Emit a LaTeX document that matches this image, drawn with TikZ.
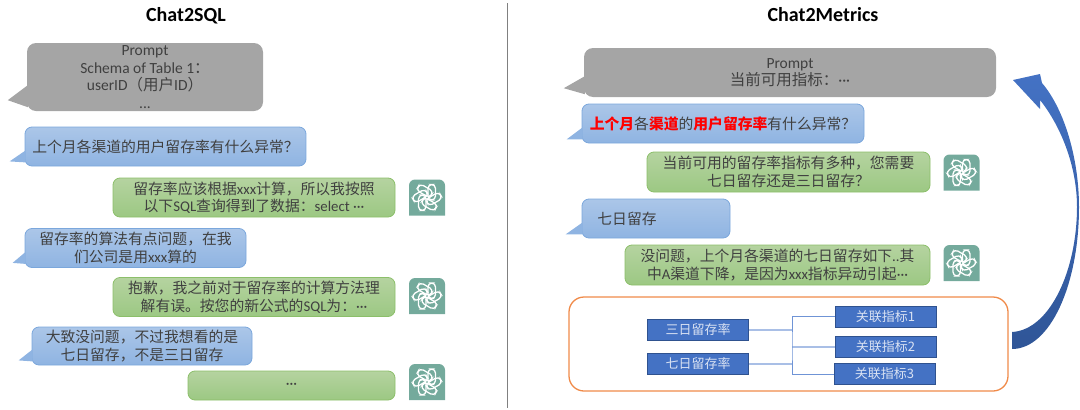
\documentclass[tikz,border=0pt]{standalone}
\usepackage{fontspec}
\setmainfont{Noto Sans CJK SC}
\newfontfamily\latfont{Carlito}
\usetikzlibrary{arrows.meta,calc,positioning}
\definecolor{txtgray}{HTML}{404040}
\definecolor{promptgray}{HTML}{A5A5A5}
\definecolor{gptteal}{HTML}{74AA9C}
\definecolor{redword}{HTML}{FF0000}
\definecolor{usertop}{HTML}{ABC6E8}
\definecolor{userlow}{HTML}{8FB4E2}
\definecolor{useredge}{HTML}{7BA7DC}
\definecolor{gpttop}{HTML}{B5D3A0}
\definecolor{gptlow}{HTML}{9CC883}
\definecolor{gptedge}{HTML}{8CBF6A}
\definecolor{metricfill}{HTML}{4472C4}
\definecolor{metricedge}{HTML}{2F528F}
\definecolor{metrictext}{HTML}{D9E2F3}
\definecolor{linklight}{HTML}{A9BFE6}
\definecolor{linkdark}{HTML}{6F94D6}
\definecolor{treeedge}{HTML}{F08B4A}
\definecolor{arrowlow}{HTML}{2F5597}
\newcommand{\lat}[1]{{\latfont #1}}
\newcommand{\hot}[1]{{\bfseries\color{redword}#1}}
\tikzset{
  bubble/.style={rectangle,rounded corners=7pt,inner sep=0pt,align=center,text=txtgray,font=\fontsize{14.8}{17.5}\selectfont},
  promptbox/.style={bubble,fill=promptgray,rounded corners=9pt,font=\fontsize{15.5}{17.5}\selectfont},
  userbox/.style={bubble,draw=useredge,top color=usertop,bottom color=userlow,line width=.8pt},
  gptbox/.style={bubble,draw=gptedge,top color=gpttop,bottom color=gptlow,line width=.8pt},
  metricbox/.style={rectangle,draw=metricedge,fill=metricfill,minimum width=101pt,minimum height=21pt,inner sep=0pt,text=metrictext,font=\fontsize{13}{15}\selectfont,line width=1pt},
  linkthick/.style={draw=linklight,line width=1.6pt},
  linkthin/.style={draw=linkdark,line width=1pt},
  pics/gptlogo/.style={code={
    \fill[gptteal] (-18,18) [rounded corners=6pt] -- (-18,-18) -- (18,-18) [sharp corners] -- (18,18) -- cycle;
    \foreach \ang in {0,60,...,300}
      \draw[white,line width=1.3pt,rotate=\ang,rounded corners=4pt] (1,-13) rectangle (8.5,2.5);
  }}
}
\begin{document}
\begin{tikzpicture}[x=1pt,y=-1pt,>=Stealth]
  \useasboundingbox (0,0) rectangle (1080,410);
  \node[font=\latfont\bfseries\fontsize{20}{22}\selectfont] (titleleft) at (186,16) {Chat2SQL};
  \node[font=\latfont\bfseries\fontsize{20}{22}\selectfont] (titleright) at (823,15) {Chat2Metrics};
  \draw[gray,line width=.8pt] (507,3) -- (507,408);

  % left column
  \node[promptbox,minimum width=236pt,minimum height=68pt] (promptl) at (145,77)
    {\lat{Prompt}\\\lat{Schema of Table 1}：\\\lat{userID}（用户\lat{ID}）\\\lat{...}};
  \node[userbox,minimum width=281pt,minimum height=39pt] (ul1) at (165.5,146.5) {上个月各渠道的用户留存率有什么异常？};
  \node[gptbox,minimum width=282pt,minimum height=39pt] (gl1) at (254,197.5) {留存率应该根据\lat{xxx}计算，所以我按照\\以下\lat{SQL}查询得到了数据：\lat{select ···}};
  \node[userbox,minimum width=221pt,minimum height=39pt] (ul2) at (135.5,248) {留存率的算法有点问题，在我\\们公司是用\lat{xxx}算的};
  \node[gptbox,minimum width=282pt,minimum height=39pt] (gl2) at (254,297) {抱歉，我之前对于留存率的计算方法理\\解有误。按您的新公式的\lat{SQL}为：\lat{···}};
  \node[userbox,minimum width=220pt,minimum height=38pt] (ul3) at (142,346) {大致没问题，不过我想看的是\\七日留存，不是三日留存};
  \node[gptbox,minimum width=207pt,minimum height=29pt] (gl3) at (291.5,385.5) {\lat{···}};

  % right column
  \node[promptbox,minimum width=412pt,minimum height=49pt] (promptr) at (790,72.5) {\lat{Prompt}\\当前可用指标：\lat{···}};
  \node[userbox,minimum width=282pt,minimum height=39pt] (ur1) at (723,123.5)
    {\hot{上个月}各\hot{渠道}的\hot{用户留存率}有什么异常？};
  \node[gptbox,minimum width=283pt,minimum height=40pt] (gr1) at (788.5,172) {当前可用的留存率指标有多种，您需要\\七日留存还是三日留存？};
  \node[userbox,minimum width=148pt,minimum height=39pt] (ur2) at (656,218.5) {\hspace{-58pt}七日留存};
  \node[gptbox,minimum width=305pt,minimum height=40pt] (gr2) at (777.5,265) {没问题，上个月各渠道的七日留存如下\lat{..}其\\中\lat{A}渠道下降，是因为\lat{xxx}指标异动引起\lat{···}};

  % bubble tails
  \fill[promptgray] ($(promptl.south west)+(1,-26)$) -- ($(promptl.south west)+(-19,-11)$) -- ($(promptl.south west)+(1,-4)$) -- cycle;
  \fill[promptgray] ($(promptr.south west)+(1,-21)$) -- ($(promptr.south west)+(-20,-9)$) -- ($(promptr.south west)+(1,-3)$) -- cycle;
  \foreach \nd/\tx/\ty in {ul1/-15/-5,ul2/-12/-5,ul3/-13/-5,ur1/-15/-4,ur2/-16/-4} {
    \fill[userlow] ($(\nd.south west)+(1,-16)$) -- ($(\nd.south west)+(\tx,\ty)$) -- ($(\nd.south west)+(1,-4)$) -- cycle;
  }

  % logos
  \foreach \lx/\ly in {427/197.5,427/296,427/382,961.5/172.5,961.5/263}
    \pic at (\lx,\ly) {gptlogo};

  % metric tree
  \node[draw=treeedge,line width=1.3pt,rounded corners=15pt,minimum width=439pt,minimum height=94pt,inner sep=0pt] (treebox) at (788.5,344) {};
  \node[metricbox] (rate3) at (698,330) {三日留存率};
  \node[metricbox] (rate7) at (698,364) {七日留存率};
  \node[metricbox] (rel1) at (885.5,316.5) {关联指标1};
  \node[metricbox] (rel2) at (885.5,347) {关联指标2};
  \node[metricbox] (rel3) at (884.5,374) {关联指标3};
  \coordinate (fork) at (792,347);
  \draw[linkthick] (rate3.east) -- (rate3.east -| fork);
  \draw[linkthick] (rate7.east) -- (rate7.east -| fork);
  \draw[linkthick] (fork) -- (rel2.west);
  \draw[linkthin] (rel1.west) -| (fork) |- (rel3.west);

  % feedback arrow
  \shade[top color=metricfill,bottom color=arrowlow]
    (1012,332) .. controls (1050,330) and (1077,270) .. (1077,207)
    .. controls (1077,165) and (1060,125) .. (1040,100) -- (1040,109) -- (1013,80) -- (1040,74) -- (1042,83)
    .. controls (1065,110) and (1079,160) .. (1079,207)
    .. controls (1079,285) and (1050,349) .. (1012,349) -- cycle;
\end{tikzpicture}
\end{document}
